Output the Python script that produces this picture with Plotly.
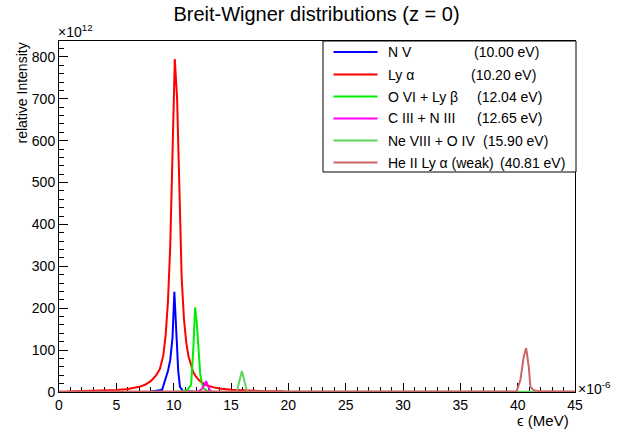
import plotly.graph_objects as go

# ---------------- data (x in units of 1e-6 MeV, y in units of 1e12) ----------------
nv_x = [7.9, 8.4, 8.8, 9.0, 9.25, 9.5, 9.7, 9.9, 10.06, 10.25, 10.4, 10.55, 10.8, 11.2, 11.8]
nv_y = [0.5, 2, 4, 6, 28, 50, 76, 130, 239, 130, 50, 12, 3, 1.5, 0.5]

lya_x = [0.7, 2, 3, 4, 5, 6, 6.5, 7, 7.5, 8, 8.5, 8.8, 9.1, 9.3, 9.5, 9.7, 9.9, 10.1, 10.3,
         10.5, 10.7, 10.9, 11.1, 11.3, 11.5, 11.7, 11.9, 12.2, 12.6, 13, 13.5, 14, 15, 16,
         17, 18, 19, 19.7]
lya_y = [1.4, 1.9, 2.4, 3.3, 4.7, 7.1, 9.2, 12.3, 17.3, 26, 41, 55, 88, 135, 215, 347, 570, 795, 700,
         447, 271, 173, 118, 84, 63, 48, 38.6, 28.5, 20, 15, 11, 8.3, 5.2, 3.6,
         2.6, 2, 1.6, 1.4]

ovi_x = [10.0, 10.8, 11.2, 11.52, 11.72, 11.78, 11.87, 12.02, 12.16, 12.31, 12.46, 12.6, 12.9, 13.3]
ovi_y = [0.5, 2, 5, 17, 108, 164, 202, 164, 108, 45, 21, 9, 3, 1]

ciii_x = [12.1, 12.4, 12.6, 12.83, 13.0, 13.15, 13.35]
ciii_y = [1, 6, 13, 26, 14, 4, 1]

neviii_x = [15.5, 15.95, 16.4, 39.9, 41.6]
neviii_y = [0.5, 50, 0.5, 0.5, 0.5]

heii_x = [0, 39.9, 40.24, 40.53, 40.74, 40.97, 41.11, 41.4, 42, 45]
heii_y = [1, 1, 29, 84, 105, 60, 13, 4, 1.5, 1]

line_names = ["N V", "Ly α", "O VI + Ly β", "C III + N III", "Ne VIII + O IV", "He II Ly α (weak)"]
line_energies = ["(10.00 eV)", "(10.20 eV)", "(12.04 eV)", "(12.65 eV)", "(15.90 eV)", "(40.81 eV)"]
line_colors = ["#0000ff", "#ff0000", "#00ee00", "#ff00ff", "#5fd35f", "#cc6666"]

x_ticks = [0, 5, 10, 15, 20, 25, 30, 35, 40, 45]
y_ticks = [0, 100, 200, 300, 400, 500, 600, 700, 800]

series = [(nv_x, nv_y), (lya_x, lya_y), (ovi_x, ovi_y), (ciii_x, ciii_y),
          (neviii_x, neviii_y), (heii_x, heii_y)]

# ---------------- layout geometry (pixels) ----------------
W, H = 633, 434
PL, PR, PT, PB = 59, 575, 41, 392


def px_x(p):
    return (p - PL) / (PR - PL)


def px_y(p):
    return (PB - p) / (PB - PT)


FONT = "Liberation Sans, Arial, Helvetica, sans-serif"

fig = go.Figure()
for (xs, ys), name, col in zip(series, line_names, line_colors):
    fig.add_trace(go.Scatter(x=xs, y=ys, mode="lines", name=name,
                             line=dict(color=col, width=2), showlegend=False,
                             hoverinfo="skip"))

axis_common = dict(showgrid=False, zeroline=False, showline=True, linecolor="black",
                   linewidth=1, mirror=True, ticks="inside", ticklen=9, tickwidth=1,
                   tickcolor="black", layer="below traces",
                   tickfont=dict(family=FONT, size=14, color="black"))

fig.update_xaxes(range=[0, 45], tickvals=x_ticks, ticktext=[str(v) for v in x_ticks],
                 minor=dict(ticks="inside", ticklen=5, dtick=1, tickcolor="black"),
                 **axis_common)
fig.update_yaxes(range=[0, 838], tickvals=y_ticks, ticktext=[str(v) for v in y_ticks],
                 minor=dict(ticks="inside", ticklen=5, dtick=20, tickcolor="black"),
                 **axis_common)

shapes = []
annotations = []

# legend box
LX0, LX1, LY0, LY1 = 323, 576, 41, 172
shapes.append(dict(type="rect", xref="paper", yref="paper",
                   x0=px_x(LX0), x1=px_x(LX1), y0=px_y(LY1), y1=px_y(LY0),
                   line=dict(color="black", width=1), fillcolor="white", layer="above"))
row_y = [52, 74.5, 96.5, 118.5, 140.5, 162.5]
energy_x = [472, 469, 475, 475, 481, 498]
for i, (name, en, col) in enumerate(zip(line_names, line_energies, line_colors)):
    yy = px_y(row_y[i])
    shapes.append(dict(type="line", xref="paper", yref="paper",
                       x0=px_x(333.5), x1=px_x(377.5), y0=yy, y1=yy,
                       line=dict(color=col, width=2), layer="above"))
    annotations.append(dict(text=name, xref="paper", yref="paper", x=px_x(385.5), y=yy,
                            xanchor="left", yanchor="middle", showarrow=False,
                            font=dict(family=FONT, size=14, color="black")))
    annotations.append(dict(text=en, xref="paper", yref="paper", x=px_x(energy_x[i]), y=yy,
                            xanchor="left", yanchor="middle", showarrow=False,
                            font=dict(family=FONT, size=14, color="black")))

# axis extras
annotations.append(dict(text="×10<sup>12</sup>", xref="paper", yref="paper",
                        x=px_x(56), y=px_y(42), xanchor="left", yanchor="bottom",
                        showarrow=False, font=dict(family=FONT, size=14, color="black")))
annotations.append(dict(text="×10<sup>-6</sup>", xref="paper", yref="paper",
                        x=px_x(576), y=px_y(388), xanchor="left", yanchor="middle",
                        showarrow=False, font=dict(family=FONT, size=14, color="black")))
annotations.append(dict(text="ϵ (MeV)", xref="paper", yref="paper",
                        x=px_x(571), y=px_y(420), xanchor="right", yanchor="middle",
                        showarrow=False, font=dict(family=FONT, size=15, color="black")))
annotations.append(dict(text="relative Intensity", xref="paper", yref="paper",
                        x=px_x(21), y=px_y(41), xanchor="center", yanchor="top",
                        textangle=-90, showarrow=False,
                        font=dict(family=FONT, size=14, color="black")))

fig.update_layout(
    width=W, height=H,
    margin=dict(l=PL, r=W - PR, t=PT, b=H - PB),
    paper_bgcolor="white", plot_bgcolor="white",
    title=dict(text="Breit-Wigner distributions (z = 0)", x=0.5, xanchor="center",
               y=1 - 14 / H, yanchor="middle",
               font=dict(family=FONT, size=20, color="black")),
    shapes=shapes, annotations=annotations, showlegend=False,
)

fig.write_html("out.html")
